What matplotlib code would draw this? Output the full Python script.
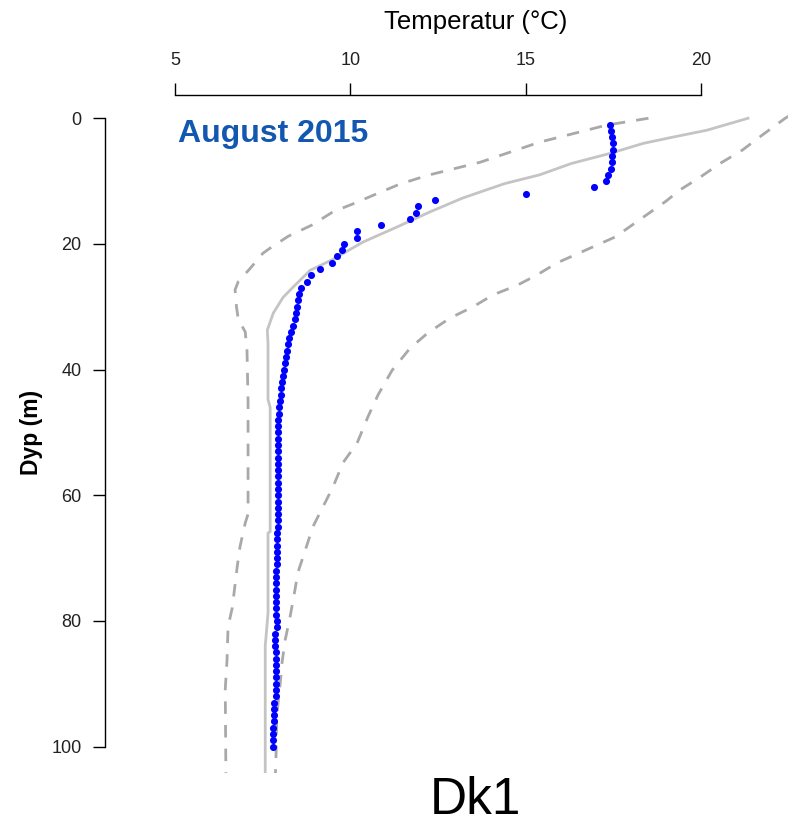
import numpy as np
import matplotlib
matplotlib.use("Agg")
import matplotlib.pyplot as plt

plt.rcParams['font.family'] = ['Liberation Sans', 'DejaVu Sans']

# measured profile, August 2015 (depth in m, temperature in degC)
obs_depth = list(range(1, 101))
obs_temp = [17.40, 17.43, 17.46, 17.48, 17.48, 17.47, 17.45, 17.42, 17.36, 17.30,
            16.95, 15.00, 12.41, 11.93, 11.87, 11.70, 10.87, 10.19, 10.19, 9.82,
            9.76, 9.62, 9.48, 9.13, 8.88, 8.76, 8.60, 8.54, 8.50, 8.48,
            8.45, 8.42, 8.37, 8.31, 8.25, 8.22, 8.19, 8.17, 8.14, 8.11,
            8.08, 8.05, 8.03, 8.02, 7.98, 7.97, 7.96, 7.94, 7.94, 7.94,
            7.94, 7.94, 7.94, 7.94, 7.94, 7.94, 7.94, 7.94, 7.94, 7.94,
            7.94, 7.94, 7.94, 7.94, 7.94, 7.91, 7.91, 7.91, 7.91, 7.90,
            7.90, 7.88, 7.88, 7.88, 7.88, 7.88, 7.88, 7.88, 7.88, 7.91,
            7.91, 7.85, 7.85, 7.85, 7.88, 7.88, 7.88, 7.88, 7.88, 7.87,
            7.87, 7.87, 7.82, 7.82, 7.82, 7.82, 7.79, 7.79, 7.79, 7.79]

# climatological mean (solid)
mean_depth = [0, 1.9, 3.0, 4.0, 5.6, 7.2, 9.0, 10.4, 12.7, 14.9, 17.3, 19.7,
              22.6, 24.2, 26.9, 28.5, 31.0, 33.7, 36.0, 44.8, 46.0, 65.8, 66.0,
              78.7, 84.0, 106]
mean_temp = [21.34, 20.17, 19.2, 18.35, 17.4, 16.3, 15.4, 14.4, 13.2, 12.27,
             11.33, 10.36, 9.45, 8.85, 8.36, 8.08, 7.8, 7.63, 7.65, 7.65, 7.71,
             7.71, 7.65, 7.65, 7.57, 7.57]

# lower bound (dashed)
low_depth = [0, 1.1, 2.1, 3.8, 7.0, 9.1, 10.5, 11.9, 13.5, 14.9, 17.0, 18.8,
             20.7, 21.5, 23.9, 26.0, 27.3, 30.0, 32.0, 34.0, 37.0, 45.0, 63.0,
             64.4, 68.2, 71.4, 74.2, 77.9, 80.9, 86.2, 90.9, 106]
low_temp = [18.5, 17.3, 16.6, 15.4, 13.7, 12.19, 11.4, 10.8, 10.13, 9.5, 8.9,
            8.22, 7.7, 7.5, 7.14, 6.8, 6.71, 6.75, 6.8, 7.0, 7.05, 7.08, 7.08,
            7.0, 6.85, 6.77, 6.71, 6.63, 6.51, 6.48, 6.43, 6.45]

# upper bound (dashed)
high_depth = [-1, 0, 2.7, 5.1, 7.2, 9.4, 11.4, 13.2, 18.9, 23.0, 25.0, 26.6,
              28.1, 30.0, 31.8, 34.2, 36.6, 40.1, 44.0, 47.5, 51.7, 54.8, 58.7,
              61.8, 65.0, 69.8, 72.3, 75.0, 79.3, 83.0, 86.6, 89.8, 95.0, 101.0,
              106]
high_temp = [22.7, 22.4, 21.74, 21.17, 20.54, 19.97, 19.4, 19.0, 17.55, 15.9,
             15.3, 14.75, 14.07, 13.5, 12.84, 12.2, 11.7, 11.19, 10.79, 10.5,
             10.19, 9.79, 9.5, 9.22, 8.93, 8.65, 8.5, 8.42, 8.28, 8.14, 8.05,
             8.0, 7.9, 7.88, 7.85]

fig = plt.figure(figsize=(7.88, 8.25), dpi=100)
ax = fig.add_axes([105 / 788, 1 - 773 / 825, 683 / 788, 678 / 825])

ax.plot(mean_temp, mean_depth, color='#c4c4c4', lw=2.0, zorder=2)
ax.plot(low_temp, low_depth, color='#a9a9a9', lw=2.0, ls=(0, (4.5, 4)), zorder=2)
ax.plot(high_temp, high_depth, color='#a9a9a9', lw=2.0, ls=(0, (4.5, 4)), zorder=2)
ax.scatter(obs_temp, obs_depth, s=26, color='#0000ff', zorder=3, linewidths=0)

ax.set_xlim(3.0, 22.48)
ax.set_ylim(104.2, -3.7)

ax.spines['right'].set_visible(False)
ax.spines['bottom'].set_visible(False)
ax.spines['top'].set_bounds(5, 20)
ax.spines['left'].set_bounds(0, 100)
for s in ('top', 'left'):
    ax.spines[s].set_linewidth(1.0)

ax.xaxis.tick_top()
ax.set_xticks([5, 10, 15, 20])
ax.set_yticks([0, 20, 40, 60, 80, 100])
ax.tick_params(axis='both', direction='out', length=9, width=1.0,
               labelsize=13, labelcolor='#222222')
ax.tick_params(axis='x', pad=10)
ax.tick_params(axis='y', pad=8)

fig.text(476 / 788, 1 - 22 / 825, 'Temperatur (\u00b0C)', ha='center',
         va='center', fontsize=18.5)
fig.text(32 / 788, 1 - 432 / 825, 'Dyp (m)', ha='center', va='center',
         rotation=90, fontsize=16.5, fontweight='bold')
fig.text(178 / 788, 1 - 134 / 825, 'August 2015', ha='left', va='center',
         fontsize=23, fontweight='bold', color='#1358b0')
fig.text(475 / 788, 1 - 801 / 825, 'Dk1', ha='center', va='center',
         fontsize=37)

fig.savefig('out.png', dpi=100)
